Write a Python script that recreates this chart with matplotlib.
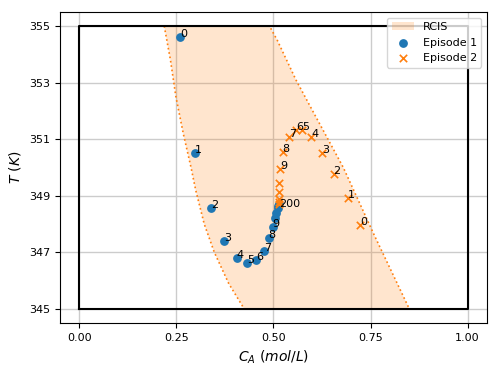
import matplotlib
matplotlib.use("Agg")
import matplotlib.pyplot as plt
import numpy as np

# RCIS boundary (left edge top->bottom, right edge bottom->top)
rcis_left_ca = [0.219, 0.235, 0.249, 0.268, 0.288, 0.300, 0.322, 0.348, 0.385, 0.425]
rcis_left_t = [355.0, 353.8, 352.5, 351.2, 350.0, 349.2, 348.0, 347.0, 345.9, 345.0]
rcis_right_ca = [0.85, 0.76, 0.68, 0.60, 0.558, 0.51, 0.49]
rcis_right_t = [345.0, 347.6, 350.0, 352.03, 353.1, 354.5, 355.0]

# Episode 1
ep1_ca = [0.260, 0.299, 0.339, 0.374, 0.405, 0.432, 0.455, 0.475, 0.488, 0.498,
          0.503, 0.507, 0.511, 0.513, 0.515]
ep1_t = [354.60, 350.50, 348.56, 347.40, 346.81, 346.61, 346.73, 347.06, 347.50, 347.89,
         348.20, 348.38, 348.56, 348.64, 348.70]
# Episode 2
ep2_ca = [0.724, 0.692, 0.655, 0.625, 0.597, 0.573, 0.558, 0.541, 0.524, 0.517,
          0.515, 0.514, 0.514, 0.514, 0.515]
ep2_t = [347.97, 348.91, 349.76, 350.52, 351.07, 351.33, 351.33, 351.09, 350.56, 349.95,
         349.46, 349.14, 348.90, 348.78, 348.70]
labels = ["0", "1", "2", "3", "4", "5", "6", "7", "8", "9"]
final_label = "200"

fig = plt.figure(figsize=(4.98, 3.74), dpi=100)
ax = fig.add_axes([0.12, 0.136, 0.858, 0.832])

poly_ca = rcis_left_ca + rcis_right_ca
poly_t = rcis_left_t + rcis_right_t
ax.fill(poly_ca, poly_t, color="C1", alpha=0.2, lw=0, label="RCIS", zorder=1)
ax.plot(poly_ca + [poly_ca[0]], poly_t + [poly_t[0]], color="C1", ls=":", lw=1.2, zorder=2)

ax.plot([0, 1, 1, 0, 0], [345, 345, 355, 355, 345], color="black", lw=1.5, zorder=3)

ax.scatter(ep1_ca, ep1_t, color="C0", marker="o", s=28, label="Episode 1", zorder=4)
ax.scatter(ep2_ca, ep2_t, color="C1", marker="x", s=28, linewidths=1.2,
           label="Episode 2", zorder=5)

for i, lab in enumerate(labels):
    ax.text(ep1_ca[i], ep1_t[i], lab, fontsize=8, zorder=6)
    ax.text(ep2_ca[i], ep2_t[i], lab, fontsize=8, zorder=6)
ax.text(ep2_ca[-1], ep2_t[-1] - 0.1, final_label, fontsize=8, zorder=6)

ax.set_xlim(-0.05, 1.05)
ax.set_ylim(344.5, 355.5)
ax.set_xticks([0.0, 0.25, 0.5, 0.75, 1.0])
ax.set_xticklabels(["0.00", "0.25", "0.50", "0.75", "1.00"])
ax.set_yticks([345, 347, 349, 351, 353, 355])
ax.tick_params(labelsize=8)
ax.grid(True, color="#cccccc", lw=1, zorder=0)
ax.set_axisbelow(True)
ax.set_xlabel(r"$C_A\ (mol/L)$", fontsize=10)
ax.set_ylabel(r"$T\ (K)$", fontsize=10)
ax.legend(loc="upper right", fontsize=8)

fig.savefig("out.png", dpi=100)
